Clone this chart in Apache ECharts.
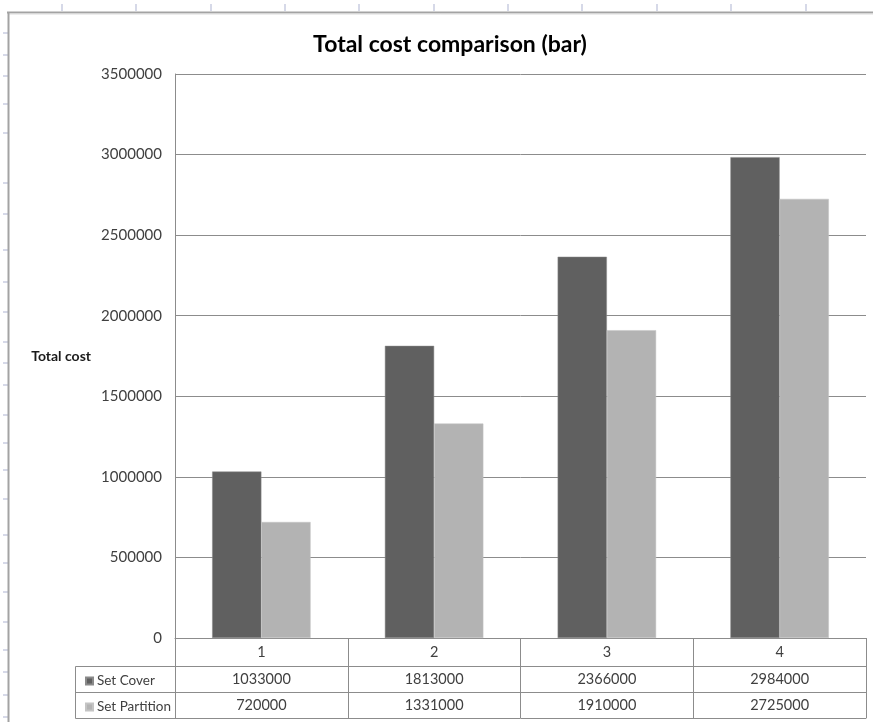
<!DOCTYPE html>
<html>
<head>
<meta charset="utf-8">
<title>Total cost comparison (bar)</title>
<script src="https://cdn.jsdelivr.net/npm/echarts@6/dist/echarts.min.js"></script>
<style>
  html, body { margin: 0; padding: 0; background: #ffffff; }
  #chart { width: 873px; height: 722px; }
</style>
</head>
<body>
<div id="chart"></div>
<script>
// Problem sizes along the x axis
const categories = ['1', '2', '3', '4'];
// Total cost per formulation
const setCover = [1033000, 1813000, 2366000, 2984000];
const setPartition = [720000, 1331000, 1910000, 2725000];
const seriesNames = ['Set Cover', 'Set Partition'];
// Value axis range
const yMin = 0;
const yMax = 3500000;
const yStep = 500000;

// Worksheet ruler marks around the embedded chart
const rulerTopX = [62, 136, 211, 285, 359, 434, 508, 582, 657, 731, 806];
const rulerLeftY = [33, 55, 76, 104, 133, 183, 214, 250, 282, 312, 342, 363, 385, 415, 443, 470, 499, 535, 563, 592, 622, 650, 672, 695, 717];

const FONT = 'Lato, "Open Sans", sans-serif';
const GRID = '#8c8c8c';
const TEXT = '#404040';

const chart = echarts.init(document.getElementById('chart'), null, { renderer: 'canvas' });

const frame = [];
rulerTopX.forEach(function (x) {
  frame.push({ type: 'line', shape: { x1: x, y1: 4, x2: x, y2: 11 }, style: { stroke: '#c9cde0', lineWidth: 1.5 }, silent: true });
});
rulerLeftY.forEach(function (y) {
  frame.push({ type: 'line', shape: { x1: 3, y1: y, x2: 8, y2: y }, style: { stroke: '#c9cde0', lineWidth: 1.5 }, silent: true });
});
frame.push({ type: 'line', shape: { x1: 7, y1: 12.5, x2: 873, y2: 12.5 }, style: { stroke: '#a3a3a3', lineWidth: 2 }, silent: true });
frame.push({ type: 'line', shape: { x1: 8, y1: 14, x2: 873, y2: 14 }, style: { stroke: '#dcdcdc', lineWidth: 1 }, silent: true });
frame.push({ type: 'line', shape: { x1: 8.5, y1: 12, x2: 8.5, y2: 722 }, style: { stroke: '#a3a3a3', lineWidth: 2 }, silent: true });
// Legend column of the data table
frame.push({ type: 'rect', shape: { x: 75.5, y: 666.5, width: 100, height: 52 }, style: { fill: 'none', stroke: GRID, lineWidth: 1 }, silent: true });
frame.push({ type: 'line', shape: { x1: 75.5, y1: 692.5, x2: 175.5, y2: 692.5 }, style: { stroke: GRID, lineWidth: 1 }, silent: true });

function tableAxis(values, offset, showLabel) {
  return {
    type: 'category',
    data: values.map(String),
    position: 'bottom',
    offset: offset,
    gridIndex: 0,
    axisLine: { show: true, lineStyle: { color: GRID, width: 1 } },
    axisTick: { show: false },
    splitLine: { show: false },
    axisLabel: { show: showLabel, margin: 6, fontSize: 14.5, color: TEXT, fontFamily: FONT, interval: 0 }
  };
}

const option = {
  backgroundColor: '#ffffff',
  animation: false,
  title: {
    text: 'Total cost comparison (bar)',
    left: 445,
    textAlign: 'center',
    top: 28,
    textStyle: { fontFamily: FONT, fontSize: 23, fontWeight: 'bold', color: '#000000' }
  },
  legend: {
    orient: 'vertical',
    left: 80,
    top: 668,
    icon: 'rect',
    itemWidth: 7,
    itemHeight: 7,
    itemGap: 10,
    selectedMode: false,
    data: seriesNames,
    textStyle: { fontFamily: FONT, fontSize: 13.5, color: TEXT, lineHeight: 16, padding: [0, 0, 0, -1] }
  },
  grid: { left: 175, right: 7, top: 74, bottom: 84, containLabel: false },
  xAxis: [
    {
      type: 'category',
      data: categories,
      position: 'bottom',
      axisLine: { show: true, lineStyle: { color: GRID, width: 1 } },
      axisTick: { show: true, interval: 0, length: 80, lineStyle: { color: GRID, width: 1 } },
      axisLabel: { margin: 7, fontSize: 14.5, color: TEXT, fontFamily: FONT, interval: 0 },
      splitLine: { show: false }
    },
    tableAxis(setCover, 28, true),
    tableAxis(setPartition, 54, true),
    tableAxis(categories, 80, false)
  ],
  yAxis: {
    type: 'value',
    min: yMin,
    max: yMax,
    interval: yStep,
    name: 'Total cost',
    nameLocation: 'middle',
    nameRotate: 0,
    nameGap: 84,
    nameTextStyle: { fontFamily: FONT, fontSize: 14, fontWeight: 'bold', color: '#1a1a1a' },
    axisLine: { show: true, lineStyle: { color: GRID, width: 1 } },
    axisTick: { show: false },
    axisLabel: {
      margin: 13,
      fontSize: 15,
      color: TEXT,
      fontFamily: FONT,
      formatter: function (v) { return String(v); }
    },
    splitLine: { show: true, lineStyle: { color: GRID, width: 1 } }
  },
  series: [
    {
      name: seriesNames[0],
      type: 'bar',
      xAxisIndex: 0,
      data: setCover,
      barGap: '0%',
      barCategoryGap: '43%',
      itemStyle: { color: '#606060', borderColor: '#8a8a8a', borderWidth: 0.5 }
    },
    {
      name: seriesNames[1],
      type: 'bar',
      xAxisIndex: 0,
      data: setPartition,
      barGap: '0%',
      barCategoryGap: '43%',
      itemStyle: { color: '#b3b3b3', borderColor: '#c4c4c4', borderWidth: 0.5 }
    }
  ],
  graphic: frame
};

chart.setOption(option);
</script>
</body>
</html>
